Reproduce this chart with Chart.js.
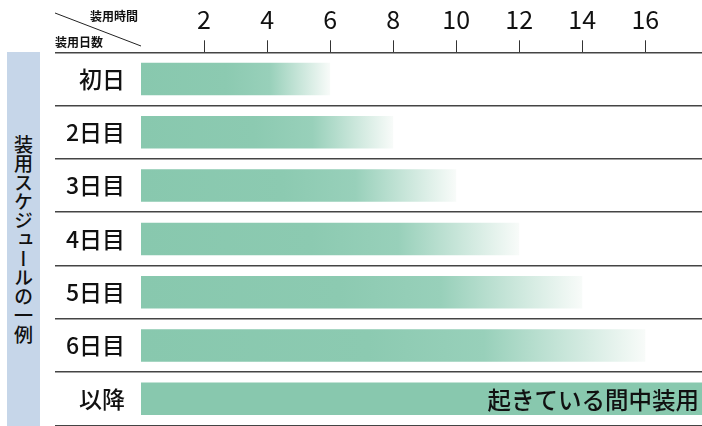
<!DOCTYPE html>
<html>
<head>
<meta charset="utf-8">
<script src="https://cdn.jsdelivr.net/npm/chart.js@4"></script>
<style>
  body { margin: 0; background: #fff; }
  #wrap { position: relative; width: 702px; height: 426px; }
  #side {
    position: absolute; left: 7px; top: 52px; width: 33px; height: 374px;
    background: #c6d6e9; display: flex; align-items: center; justify-content: center;
    writing-mode: vertical-rl; font-family: 'Noto Sans CJK JP', sans-serif;
    font-size: 19px; font-weight: 500; color: #111; line-height: 1;
  }
  canvas { position: absolute; left: 0; top: 0; }
</style>
</head>
<body>
<div id="wrap">
  <canvas id="myChart" width="702" height="426"></canvas>
  <div id="side"></div>
</div>
<script>
const FONT = "'Noto Sans CJK JP', sans-serif";

// data
const days = ['初日', '2日目', '3日目', '4日目', '5日目', '6日目', '以降'];
const hours = [6, 8, 10, 12, 14, 16, 17.8];
const hourTicks = [2, 4, 6, 8, 10, 12, 14, 16];
const allDayNote = '起きている間中装用';
const topCorner = '装用時間';
const leftCorner = '装用日数';
const sideTitle = '装用スケジュールの一例';

document.getElementById('side').textContent = sideTitle;

const green = 'rgb(136,200,174)';

// fade each bar out toward its end (last one stays solid)
function barFill(c) {
  const chart = c.chart;
  if (!chart.chartArea || c.dataIndex === days.length - 1) return green;
  const xs = chart.scales.x;
  const x0 = xs.getPixelForValue(0);
  const x1 = xs.getPixelForValue(hours[c.dataIndex]);
  const g = chart.ctx.createLinearGradient(x0, 0, x1, 0);
  g.addColorStop(0, green);
  g.addColorStop(0.45, 'rgb(140,202,177)');
  g.addColorStop(0.68, 'rgb(152,208,186)');
  g.addColorStop(1, 'rgb(248,251,249)');
  return g;
}

const extras = {
  id: 'extras',
  afterDraw(chart) {
    const ctx = chart.ctx;
    ctx.save();
    // corner header
    ctx.strokeStyle = '#222';
    ctx.lineWidth = 1;
    ctx.beginPath();
    ctx.moveTo(55, 13);
    ctx.lineTo(141, 46);
    ctx.stroke();
    ctx.fillStyle = '#111';
    ctx.font = 'bold 12px ' + FONT;
    ctx.textBaseline = 'middle';
    ctx.textAlign = 'left';
    ctx.fillText(topCorner, 90, 16);
    ctx.fillText(leftCorner, 55, 42);
    // note inside last bar
    const bar = chart.getDatasetMeta(0).data[days.length - 1];
    ctx.font = '500 23.5px ' + FONT;
    ctx.textAlign = 'right';
    ctx.fillText(allDayNote, chart.chartArea.right - 3, bar.y + 1);
    ctx.restore();
  }
};

const data = {
  labels: days,
  datasets: [{
    data: hours,
    backgroundColor: barFill,
    borderWidth: 0,
    barPercentage: 0.61,
    categoryPercentage: 1
  }]
};

const config = {
  type: 'bar',
  data: data,
  plugins: [extras],
  options: {
    indexAxis: 'y',
    responsive: false,
    animation: false,
    layout: { padding: { left: 0, right: 0, top: 0, bottom: 0.5 } },
    plugins: { legend: { display: false }, tooltip: { enabled: false } },
    scales: {
      x: {
        position: 'top',
        min: 0,
        max: 17.8,
        afterBuildTicks: s => { s.ticks = hourTicks.map(v => ({ value: v })); },
        afterFit: s => { s.height = 52.3; },
        grid: { drawOnChartArea: false, drawTicks: true, tickLength: 12, color: '#333', lineWidth: 1 },
        border: { display: false },
        ticks: { font: { family: FONT, size: 25 }, color: '#111', padding: 6, maxRotation: 0, autoSkip: false }
      },
      y: {
        afterFit: s => { s.width = 141; },
        grid: {
          offset: true, drawTicks: true, tickLength: 86,
          color: c => c.index === days.length ? '#cfcfcf' : '#444',
          lineWidth: 1.5
        },
        border: { display: false },
        ticks: { padding: -70, font: { family: FONT, size: 23, weight: '500' }, color: '#111' }
      }
    }
  }
};

const myChart = new Chart(document.getElementById('myChart').getContext('2d'), config);
</script>
</body>
</html>
